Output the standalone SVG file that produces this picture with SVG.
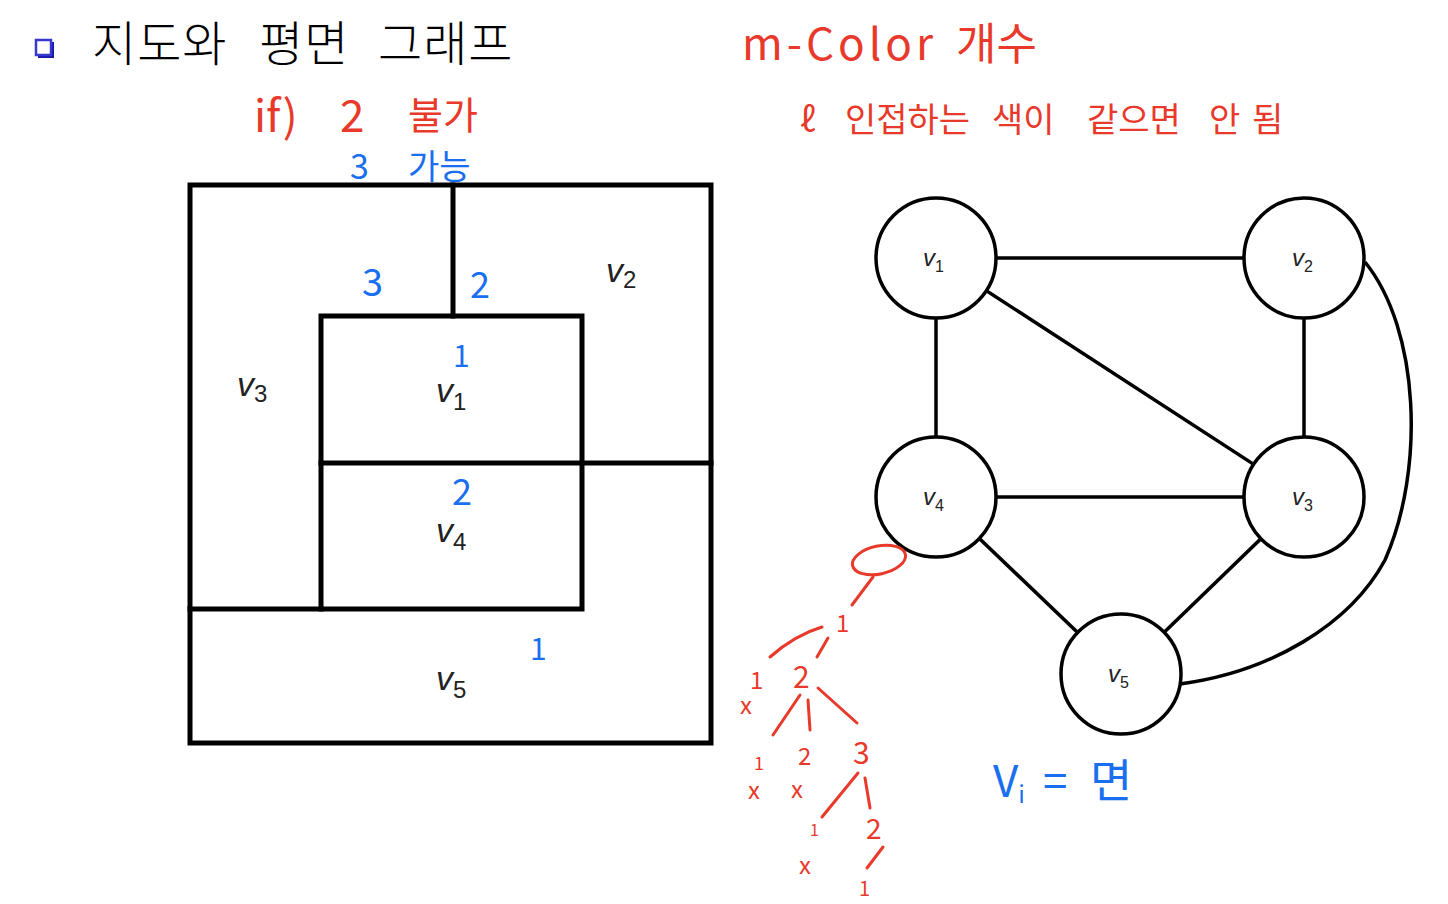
<svg xmlns="http://www.w3.org/2000/svg" width="1448" height="904" viewBox="0 0 1448 904">
<style>
.map{fill:none;stroke:#000;stroke-width:5;stroke-linecap:square}
.edge{fill:none;stroke:#000;stroke-width:3.5}
.node{fill:#fff;stroke:#000;stroke-width:3.5}
.lab{font-family:"Liberation Sans",Arial,sans-serif;font-style:italic;fill:#222}
.mlab{font-size:34px}
.glab{font-size:24px}
.sub{font-style:normal}
.red{font-family:"Noto Sans CJK KR","Noto Sans",sans-serif;fill:#e8392a;font-weight:400}
.blue{font-family:"Noto Sans CJK KR","Noto Sans",sans-serif;fill:#1a6ff0;font-weight:400}
.rs{fill:none;stroke:#e8392a;stroke-width:3;stroke-linecap:round}
</style>
<rect width="1448" height="904" fill="#fff"/>
<g id="title">
<rect x="38" y="42" width="16" height="16" fill="#1a1aa0"/>
<rect x="36" y="40" width="15" height="15" fill="#fff" stroke="#3838d0" stroke-width="2.5"/>
<text y="61" font-family="'Noto Sans CJK KR',sans-serif" font-weight="300" font-size="48" letter-spacing="1" fill="#000"><tspan x="92">지도와</tspan><tspan x="259">평면</tspan><tspan x="378">그래프</tspan></text>
</g>
<g id="map">
<rect class="map" x="190" y="185" width="521" height="558"/>
<line class="map" x1="453" y1="185" x2="453" y2="316"/>
<rect class="map" x="321" y="316" width="261" height="293"/>
<line class="map" x1="321" y1="463" x2="711" y2="463"/>
<line class="map" x1="190" y1="609" x2="321" y2="609"/>
<text class="lab mlab" x="606" y="282">v<tspan class="sub" font-size="24" dy="6">2</tspan></text>
<text class="lab mlab" x="237" y="396">v<tspan class="sub" font-size="24" dy="6">3</tspan></text>
<text class="lab mlab" x="436" y="402">v<tspan class="sub" font-size="24" dy="8">1</tspan></text>
<text class="lab mlab" x="436" y="542">v<tspan class="sub" font-size="24" dy="8">4</tspan></text>
<text class="lab mlab" x="436" y="690">v<tspan class="sub" font-size="24" dy="8">5</tspan></text>
</g>
<g id="connectors">
<line class="edge" x1="936" y1="258" x2="1304" y2="258"/>
<line class="edge" x1="936" y1="258" x2="936" y2="497"/>
<line class="edge" x1="936" y1="258" x2="1304" y2="497"/>
<line class="edge" x1="1304" y1="258" x2="1304" y2="497"/>
<line class="edge" x1="936" y1="497" x2="1304" y2="497"/>
<line class="edge" x1="936" y1="497" x2="1121" y2="674"/>
<line class="edge" x1="1304" y1="497" x2="1121" y2="674"/>
<path class="edge" d="M1365,262 C1420,330 1425,470 1385,560 C1350,625 1270,672 1180,684"/>
</g>
<g id="v1"><circle class="node" cx="936" cy="258" r="60"/><text class="lab glab" x="923" y="266">v<tspan class="sub" font-size="16" dy="6">1</tspan></text></g>
<g id="v2"><circle class="node" cx="1304" cy="258" r="60"/><text class="lab glab" x="1292" y="266">v<tspan class="sub" font-size="16" dy="6">2</tspan></text></g>
<g id="v4"><circle class="node" cx="936" cy="497" r="60"/><text class="lab glab" x="923" y="505">v<tspan class="sub" font-size="16" dy="6">4</tspan></text></g>
<g id="v3"><circle class="node" cx="1304" cy="497" r="60"/><text class="lab glab" x="1292" y="505">v<tspan class="sub" font-size="16" dy="6">3</tspan></text></g>
<g id="v5"><circle class="node" cx="1121" cy="674" r="60"/><text class="lab glab" x="1108" y="682">v<tspan class="sub" font-size="16" dy="6">5</tspan></text></g>
<g id="notes">
<text class="red" y="60" font-size="44"><tspan x="742" letter-spacing="4">m-Color</tspan><tspan x="956">개수</tspan></text>
<text class="red" y="132" font-size="34"><tspan x="800">ℓ</tspan><tspan x="845">인접하는</tspan><tspan x="992">색이</tspan><tspan x="1087">같으면</tspan><tspan x="1209">안</tspan><tspan x="1252">됨</tspan></text>
<text class="red" y="132" font-size="44"><tspan x="254">if)</tspan><tspan x="340">2</tspan><tspan x="408" font-size="38" dy="-3">불가</tspan></text>
<text class="blue" y="179" font-size="34"><tspan x="350">3</tspan><tspan x="408">가능</tspan></text>
<text class="blue" x="362" y="296" font-size="38">3</text>
<text class="blue" x="470" y="298" font-size="36">2</text>
<text class="blue" x="453" y="367" font-size="30">1</text>
<text class="blue" x="452" y="505" font-size="36">2</text>
<text class="blue" x="530" y="660" font-size="30">1</text>
<text class="blue" y="797" font-size="44"><tspan x="993">V</tspan><tspan font-size="24" dy="6">i</tspan><tspan x="1043" dy="-6">=</tspan><tspan x="1090" font-size="46">면</tspan></text>
</g>
<g id="tree">
<ellipse class="rs" cx="879" cy="560" rx="27" ry="14" transform="rotate(-12 879 560)"/>
<path class="rs" d="M873,577 L852,605"/>
<path class="rs" d="M822,627 Q795,635 770,657"/>
<path class="rs" d="M828,638 L817,657"/>
<path class="rs" d="M800,695 L773,735"/>
<path class="rs" d="M808,700 L810,730"/>
<path class="rs" d="M818,688 L857,723"/>
<path class="rs" d="M858,773 L822,817"/>
<path class="rs" d="M865,778 L870,808"/>
<path class="rs" d="M883,847 L867,868"/>
<g class="red" font-size="24">
<text x="836" y="632">1</text>
<text x="750" y="689">1</text>
<text x="740" y="714">x</text>
<text x="793" y="688" font-size="30">2</text>
<text x="754" y="770" font-size="18">1</text>
<text x="748" y="799">x</text>
<text x="798" y="765">2</text>
<text x="791" y="798">x</text>
<text x="853" y="764" font-size="30">3</text>
<text x="810" y="836" font-size="16">1</text>
<text x="799" y="874">x</text>
<text x="866" y="839" font-size="28">2</text>
<text x="859" y="896" font-size="20">1</text>
</g>
</g>
</svg>
